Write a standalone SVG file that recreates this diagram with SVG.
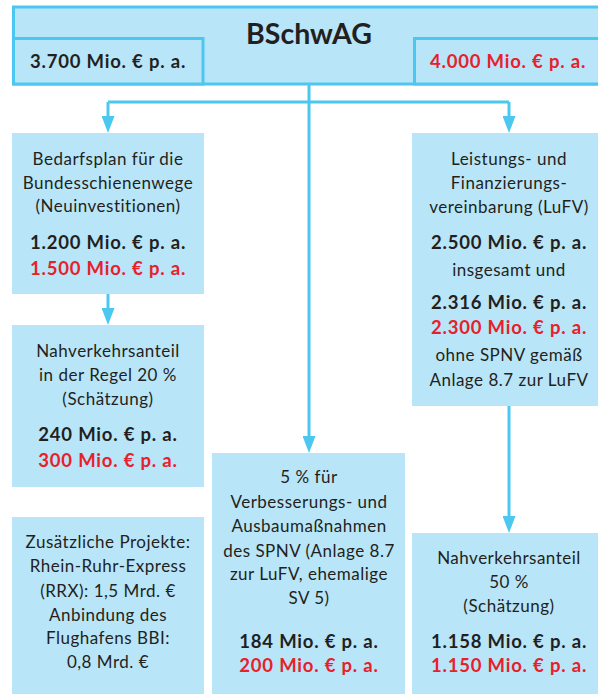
<svg xmlns="http://www.w3.org/2000/svg" width="598" height="695" viewBox="0 0 598 695">
<style>
.box{fill:#B9E5F8;}
.frame{fill:#B9E5F8;stroke:#4CC8F0;stroke-width:3;}
.t{font-family:Lato,"Liberation Sans",sans-serif;font-size:17px;letter-spacing:0.5px;fill:#231F20;text-anchor:middle;}
.b{font-family:Lato,"Liberation Sans",sans-serif;font-size:18.5px;letter-spacing:0.8px;font-weight:bold;fill:#231F20;text-anchor:middle;}
.r{fill:#E8202A;}
.title{font-family:Lato,"Liberation Sans",sans-serif;font-size:28.5px;font-weight:bold;fill:#231F20;text-anchor:middle;}
.con{fill:none;stroke:#4CC8F0;stroke-width:3;}
</style>
<defs>
<marker id="ah" viewBox="0 0 17 13" refX="11" refY="6.5" markerWidth="17" markerHeight="13" markerUnits="userSpaceOnUse" orient="auto">
<path d="M0,0 L17,6.5 L0,13 z" fill="#4CC8F0"/>
</marker>
</defs>
<g id="connectors">
<path class="con" d="M309,84 V447" marker-end="url(#ah)"/>
<path class="con" d="M108,102 H509"/>
<path class="con" d="M108,102 V127" marker-end="url(#ah)"/>
<path class="con" d="M509,102 V127" marker-end="url(#ah)"/>
<path class="con" d="M108,294 V319" marker-end="url(#ah)"/>
<path class="con" d="M509,406 V527" marker-end="url(#ah)"/>
</g>
<g id="bschwag">
<rect class="frame" x="13.5" y="7" width="600" height="77"/>
<text class="title" x="309" y="44">BSchwAG</text>
</g>
<g id="bschwag-left">
<rect class="frame" x="13.5" y="38.5" width="189.5" height="45.5"/>
<text class="b" x="108" y="68">3.700 Mio. € p. a.</text>
</g>
<g id="bschwag-right">
<rect class="frame" x="414.5" y="38.5" width="200" height="45.5"/>
<text class="b r" x="508" y="68">4.000 Mio. € p. a.</text>
</g>
<g id="bedarfsplan">
<rect class="box" x="12" y="133" width="192" height="161"/>
<text class="t" x="108" y="165">Bedarfsplan für die</text>
<text class="t" x="108" y="189">Bundesschienenwege</text>
<text class="t" x="108" y="212">(Neuinvestitionen)</text>
<text class="b" x="108" y="249">1.200 Mio. € p. a.</text>
<text class="b r" x="108" y="275">1.500 Mio. € p. a.</text>
</g>
<g id="nahverkehr20">
<rect class="box" x="12" y="325" width="192" height="162"/>
<text class="t" x="108" y="357">Nahverkehrsanteil</text>
<text class="t" x="108" y="381">in der Regel 20 %</text>
<text class="t" x="108" y="405">(Schätzung)</text>
<text class="b" x="108" y="441">240 Mio. € p. a.</text>
<text class="b r" x="108" y="467">300 Mio. € p. a.</text>
</g>
<g id="zusaetzlich">
<rect class="box" x="12" y="517" width="192" height="177"/>
<text class="t" x="108" y="548">Zusätzliche Projekte:</text>
<text class="t" x="108" y="572">Rhein-Ruhr-Express</text>
<text class="t" x="108" y="597">(RRX): 1,5 Mrd. €</text>
<text class="t" x="108" y="621">Anbindung des</text>
<text class="t" x="108" y="644">Flughafens BBI:</text>
<text class="t" x="108" y="668">0,8 Mrd. €</text>
</g>
<g id="spnv5">
<rect class="box" x="212" y="453" width="193" height="241"/>
<text class="t" x="309" y="483">5 % für</text>
<text class="t" x="309" y="508">Verbesserungs- und</text>
<text class="t" x="309" y="532">Ausbaumaßnahmen</text>
<text class="t" x="309" y="557">des SPNV (Anlage 8.7</text>
<text class="t" x="309" y="580">zur LuFV, ehemalige</text>
<text class="t" x="309" y="604">SV 5)</text>
<text class="b" x="309" y="648">184 Mio. € p. a.</text>
<text class="b r" x="309" y="672">200 Mio. € p. a.</text>
</g>
<g id="lufv">
<rect class="box" x="412" y="133" width="190" height="273"/>
<text class="t" x="509" y="165">Leistungs- und</text>
<text class="t" x="509" y="189">Finanzierungs-</text>
<text class="t" x="509" y="213">vereinbarung (LuFV)</text>
<text class="b" x="509" y="249">2.500 Mio. € p. a.</text>
<text class="t" x="509" y="276">insgesamt und</text>
<text class="b" x="509" y="309">2.316 Mio. € p. a.</text>
<text class="b r" x="509" y="334">2.300 Mio. € p. a.</text>
<text class="t" x="509" y="361">ohne SPNV gemäß</text>
<text class="t" x="509" y="386">Anlage 8.7 zur LuFV</text>
</g>
<g id="nahverkehr50">
<rect class="box" x="412" y="533" width="190" height="161"/>
<text class="t" x="509" y="564">Nahverkehrsanteil</text>
<text class="t" x="509" y="588">50 %</text>
<text class="t" x="509" y="612">(Schätzung)</text>
<text class="b" x="509" y="648">1.158 Mio. € p. a.</text>
<text class="b r" x="509" y="672">1.150 Mio. € p. a.</text>
</g>
</svg>
